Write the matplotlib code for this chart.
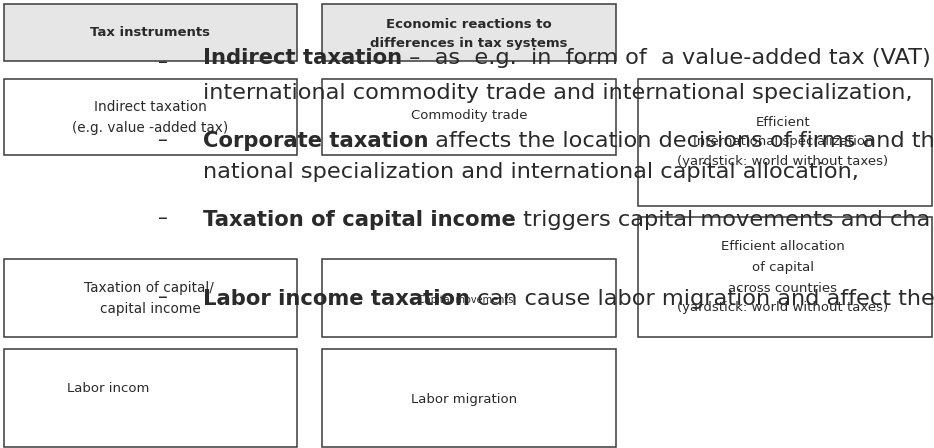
import matplotlib.pyplot as plt
from matplotlib.patches import Rectangle

# boxes: (left, top, width, height, fill) in pixel units of the page
box_names = ["tax", "reactions", "indirect", "commodity", "eff_spec",
             "eff_alloc", "capital", "cap_move", "labor", "labor_mig"]
box_left = [4, 322, 4, 322, 638, 638, 4, 322, 4, 322]
box_top = [4, 4, 79, 79, 79, 217, 259, 259, 349, 349]
box_width = [293, 294, 293, 294, 294, 294, 293, 294, 293, 294]
box_height = [57, 57, 76, 76, 127, 120, 78, 78, 98, 98]
box_fill = ["#e6e6e6", "#e6e6e6"] + ["white"] * 8

# labels inside the boxes: text, x, y, bold, size
box_labels = [
    ("Tax instruments", 150, 33, True, 9.5),
    ("Economic reactions to", 469, 24, True, 9.5),
    ("differences in tax systems", 469, 43, True, 9.5),
    ("Indirect taxation", 150, 107, False, 9.8),
    ("(e.g. value -added tax)", 150, 128, False, 9.8),
    ("Commodity trade", 469, 116, False, 9.5),
    ("Efficient", 783, 123, False, 9.5),
    ("International specialization", 783, 141, False, 9.5),
    ("(yardstick: world without taxes)", 783, 162, False, 9.5),
    ("Efficient allocation", 783, 246, False, 9.5),
    ("of capital", 783, 267, False, 9.5),
    ("across countries", 783, 288, False, 9.5),
    ("(yardstick: world without taxes)", 783, 308, False, 9.5),
    ("Taxation of capital/", 149, 288, False, 9.8),
    ("capital income", 150, 309, False, 9.8),
    ("Capital movements", 466, 300, False, 7),
    ("Labor migration", 464, 400, False, 9.5),
]
labor_incom = ("Labor incom", 67, 388)

# overlaid bullet text (justified in the source): bold part, normal part, baseline y
bullet_bold = ["Indirect taxation", "", "Corporate taxation", "",
               "Taxation of capital income", "Labor income taxation"]
bullet_rest = [" \u2013  as  e.g.  in  form of  a value-added tax (VAT)",
               "international commodity trade and international specialization,",
               " affects the location decisions of firms and th",
               "national specialization and international capital allocation,",
               " triggers capital movements and cha",
               " can cause labor migration and affect the"]
bullet_y = [64, 99, 147, 178, 226, 305]
dash_y = [68, None, 146, None, 224, 303]

ink = "#2a2a2a"
big_bold = 15.2
big = 16.2

fig = plt.figure(figsize=(9.34, 4.48), dpi=100)
ax = fig.add_axes([0, 0, 1, 1])
ax.set_xlim(0, 934)
ax.set_ylim(448, 0)
ax.axis("off")

for i in range(len(box_names)):
    ax.add_patch(Rectangle((box_left[i], box_top[i]), box_width[i], box_height[i],
                           facecolor=box_fill[i], edgecolor="#3a3a3a", lw=1.1))

for text, x, y, bold, size in box_labels:
    ax.text(x, y, text, ha="center", va="center", fontsize=size,
            fontweight="bold" if bold else "normal", color=ink)
ax.text(labor_incom[1], labor_incom[2], labor_incom[0], ha="left", va="center",
        fontsize=9.5, color=ink)

for i in range(len(bullet_y)):
    if dash_y[i] is not None:
        ax.text(163, dash_y[i], "\u2013", ha="center", va="baseline",
                fontsize=14, color=ink)
    if bullet_bold[i]:
        t = ax.text(203, bullet_y[i], bullet_bold[i], ha="left", va="baseline",
                    fontsize=big_bold, fontweight="bold", color=ink)
        ax.annotate(bullet_rest[i], xy=(1, 0), xycoords=t, ha="left", va="bottom",
                    fontsize=big, color=ink)
    else:
        ax.text(203, bullet_y[i], bullet_rest[i], ha="left", va="baseline",
                fontsize=big, color=ink)

fig.savefig("out.png", dpi=100)
